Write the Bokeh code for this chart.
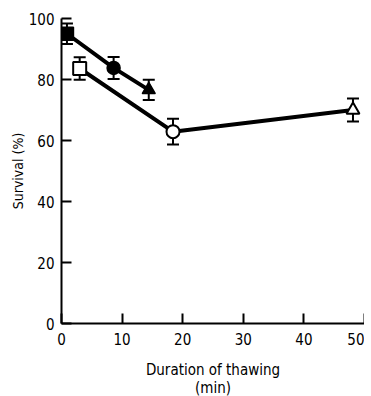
from bokeh.plotting import figure
from bokeh.models import ColumnDataSource, Whisker, TeeHead, Range1d, FixedTicker
from bokeh.embed import file_html
from bokeh.resources import INLINE

# Filled series (square, circle, triangle)
filled_x = [0.9, 8.6, 14.4]
filled_y = [95.0, 83.8, 76.6]
filled_err = [3.4, 3.6, 3.3]

# Open series (square, circle, triangle)
open_x = [3.0, 18.4, 48.1]
open_y = [83.6, 62.9, 70.0]
open_err = [3.7, 4.2, 3.8]

x_ticks = [0, 10, 20, 30, 40, 50]
y_ticks = [0, 20, 40, 60, 80, 100]

FONT = "DejaVu Sans Condensed"

p = figure(frame_width=303, frame_height=305, output_backend="svg", toolbar_location=None,
           x_range=Range1d(0, 50), y_range=Range1d(0, 100),
           min_border_left=61, min_border_right=0, min_border_top=18, min_border_bottom=60)
p.outline_line_color = None
p.xgrid.visible = False
p.ygrid.visible = False
p.background_fill_color = "white"
p.border_fill_color = "white"

for ax in (p.xaxis[0], p.yaxis[0]):
    ax.axis_line_width = 2
    ax.axis_line_color = "black"
    ax.major_tick_in = 10
    ax.major_tick_out = 0
    ax.major_tick_line_width = 2
    ax.minor_tick_line_color = None
    ax.major_label_text_font = FONT
    ax.major_label_text_font_size = "15px"
    ax.major_label_text_color = "black"

p.xaxis.ticker = FixedTicker(ticks=x_ticks)
p.yaxis.ticker = FixedTicker(ticks=y_ticks)
p.xaxis.major_label_standoff = 9
p.yaxis.major_label_standoff = 7

p.yaxis.axis_label = "Survival (%)"
p.yaxis.axis_label_text_font = FONT
p.yaxis.axis_label_text_font_size = "14px"
p.yaxis.axis_label_text_font_style = "normal"
p.yaxis.axis_label_text_color = "black"
p.yaxis.axis_label_standoff = 0

p.xaxis.axis_label = "Duration of thawing\n(min)"
p.xaxis.axis_label_text_font = FONT
p.xaxis.axis_label_text_font_size = "15px"
p.xaxis.axis_label_text_font_style = "normal"
p.xaxis.axis_label_text_color = "black"
p.xaxis.axis_label_text_line_height = 1.0
p.xaxis.axis_label_standoff = 13

filled = ColumnDataSource(dict(x=filled_x, y=filled_y,
                               up=[a + b for a, b in zip(filled_y, filled_err)],
                               lo=[a - b for a, b in zip(filled_y, filled_err)]))
opn = ColumnDataSource(dict(x=open_x, y=open_y,
                            up=[a + b for a, b in zip(open_y, open_err)],
                            lo=[a - b for a, b in zip(open_y, open_err)]))

p.line("x", "y", source=filled, line_width=4, line_color="black")
p.line("x", "y", source=opn, line_width=4, line_color="black")

for src in (filled, opn):
    w = Whisker(base="x", upper="up", lower="lo", source=src,
                line_width=2, line_color="black",
                upper_head=TeeHead(size=12, line_width=2, line_color="black"),
                lower_head=TeeHead(size=12, line_width=2, line_color="black"))
    p.add_layout(w)

markers = ["square", "circle", "triangle"]
for i, m in enumerate(markers):
    p.scatter([filled_x[i]], [filled_y[i]], marker=m, size=13,
              fill_color="black", line_color="black", line_width=1.5)
    p.scatter([open_x[i]], [open_y[i]], marker=m, size=13,
              fill_color="white", line_color="black", line_width=2)

open("out.html", "w").write(file_html(p, INLINE))
